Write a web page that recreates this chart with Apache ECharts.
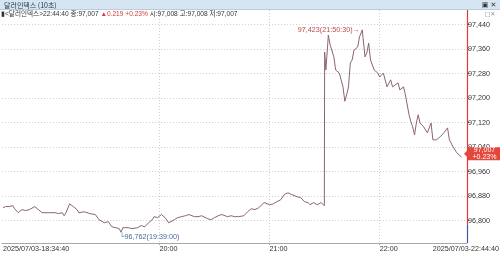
<!DOCTYPE html>
<html><head><meta charset="utf-8">
<script src="https://cdn.jsdelivr.net/npm/echarts@6/dist/echarts.min.js"></script>
<style>html,body{margin:0;padding:0;background:#fff}#c{width:500px;height:255px}</style>
</head><body><div id="c"></div>
<script>
const times = ['18:34:40','18:36','18:38','18:40','18:41','18:43','18:45','18:47','18:49','18:50','18:52','18:54','18:56','18:57','19:00','19:01','19:03','19:05','19:07','19:08','19:09','19:11','19:13','19:15','19:16','19:19','19:22','19:25','19:27','19:30','19:32','19:34','19:35','19:38','19:39','19:40','19:41','19:43','19:45','19:46','19:48','19:50','19:52','19:54','19:56','19:57','19:59','20:01','20:03','20:05','20:06','20:08','20:10','20:12','20:14','20:16','20:17','20:19','20:21','20:23','20:24','20:26','20:28','20:30','20:32','20:34','20:35','20:37','20:39','20:41','20:43','20:44','20:46','20:48','20:50','20:52','20:54','20:57','21:00','21:02','21:04','21:06','21:08','21:10','21:12','21:13','21:15','21:17','21:19','21:21','21:22','21:24','21:26','21:28','21:29:50','21:30:00','21:30:40','21:31:40','21:32','21:33','21:35','21:36','21:38','21:39','21:40','21:41','21:42','21:43','21:44','21:45','21:46','21:48','21:49','21:50:30','21:52','21:53','21:54','21:55','21:57','21:59','22:00','22:02','22:04','22:06','22:07','22:10','22:11','22:13','22:14','22:16','22:17','22:18','22:19','22:20','22:21','22:22','22:24','22:26','22:28','22:29','22:31','22:33','22:35','22:37','22:38','22:40','22:42','22:44:40'];
const values = [96.842,96.846,96.846,96.849,96.839,96.826,96.836,96.833,96.836,96.839,96.846,96.836,96.826,96.826,96.826,96.823,96.826,96.823,96.826,96.816,96.826,96.855,96.846,96.836,96.826,96.829,96.823,96.820,96.803,96.793,96.797,96.780,96.784,96.774,96.762,96.777,96.780,96.777,96.774,96.774,96.777,96.784,96.780,96.793,96.803,96.813,96.810,96.820,96.810,96.793,96.797,96.803,96.810,96.813,96.816,96.820,96.823,96.813,96.813,96.816,96.810,96.807,96.803,96.810,96.816,96.820,96.816,96.813,96.816,96.813,96.813,96.810,96.816,96.829,96.839,96.836,96.842,96.859,96.852,96.855,96.862,96.868,96.885,96.891,96.885,96.882,96.878,96.875,96.862,96.859,96.852,96.859,96.852,96.859,96.849,97.351,97.292,97.374,97.406,97.374,97.335,97.292,97.282,97.286,97.237,97.190,97.211,97.237,97.315,97.325,97.357,97.367,97.400,97.423,97.335,97.348,97.380,97.325,97.292,97.282,97.269,97.282,97.237,97.260,97.237,97.250,97.227,97.237,97.211,97.146,97.123,97.106,97.080,97.119,97.146,97.119,97.106,97.087,97.119,97.064,97.064,97.074,97.087,97.103,97.064,97.041,97.022,97.007];
const yTicks = [96.80,96.88,96.96,97.04,97.12,97.20,97.28,97.36,97.44];
const xTickTimes = ['20:00','21:00','22:00'];
const firstLabel = '2025/07/03-18:34:40';
const lastLabel = '2025/07/03-22:44:40';
const prevClose = 96.788;
const changeText = '+0.23%';
const titleText = '달러인덱스 (10초)';

const F = '"Liberation Sans","Noto Sans CJK KR",sans-serif';
const FK = '"Liberation Sans","Noto Sans CJK KR",sans-serif';
function toMin(t){const p=t.split(':').map(Number);return (p[0]-18)*60+p[1]+(p[2]||0)/60;}
const fmt = v => v.toFixed(3).replace('.', ',');
const pad = n => String(n).padStart(2,'0');
const X_MIN = toMin(times[0]) - 0.5, X_MAX = 287.6, Y_MIN = 96.727, Y_MAX = 97.488;

let iMax = 0, iMin = 0;
values.forEach((v,i)=>{ if(v>values[iMax]) iMax=i; if(v<values[iMin]) iMin=i; });
const lastV = values[values.length-1];

const chart = echarts.init(document.getElementById('c'), null, {renderer:'canvas'});
const option = {
  animation:false,
  grid: {left:0, right:33, top:10, bottom:12},
  xAxis: {
    type:'value', min:X_MIN, max:X_MAX,
    axisLine:{show:true, lineStyle:{color:'#a8a8a8', width:1}},
    axisTick:{show:true, customValues:xTickTimes.map(toMin), length:2, lineStyle:{color:'#a8a8a8'}},
    axisLabel:{
      customValues:[toMin(times[0])].concat(xTickTimes.map(toMin)),
      formatter: v => Math.abs(v - toMin(times[0])) < 0.01 ? firstLabel : pad(Math.floor(v/60)+18)+':'+pad(Math.round(v%60)),
      align:'left', margin:2, fontSize:7.2, fontFamily:F, color:'#333', verticalAlign:'top'
    },
    splitLine:{show:true, lineStyle:{type:[1,2], color:'#cfcfcf'}}
  },
  yAxis: {
    type:'value', position:'right', min:Y_MIN, max:Y_MAX, scale:true,
    axisLine:{show:false},
    axisTick:{show:true, customValues:yTicks, length:2, lineStyle:{color:'#555'}},
    axisLabel:{customValues:yTicks, formatter: v => fmt(v), fontSize:7.2, fontFamily:F, color:'#333', margin:1},
    splitLine:{show:true, lineStyle:{type:[1,2], color:'#cfcfcf'}}
  },
  series: [{
    type:'line',
    data: times.map((t,i)=>[toMin(t), values[i]]),
    showSymbol:false,
    lineStyle:{width:1, color:'#8a6474'},
    markPoint:{
      symbol:'circle', symbolSize:1, itemStyle:{color:'rgba(0,0,0,0)'}, silent:true,
      data:[
        {coord:[toMin(times[iMax]), values[iMax]], label:{show:true, position:'left', distance:2, formatter: fmt(values[iMax])+'('+times[iMax]+')→', color:'#b84a4a', fontSize:7.2, fontFamily:F}},
        {coord:[toMin(times[iMin]), values[iMin]], label:{show:true, position:'right', distance:0, offset:[-2,5], formatter: '└'+fmt(values[iMin])+'('+times[iMin]+':00)', color:'#4a6a9a', fontSize:7.2, fontFamily:F}}
      ]
    },
    markLine:{
      symbol:['none','none'], silent:true, label:{show:false},
      data:[
        [{coord:[X_MAX, prevClose], lineStyle:{color:'#e03a2a', width:1.2, type:'solid'}},{coord:[X_MAX, Y_MAX]}],
        [{coord:[X_MAX, Y_MIN], lineStyle:{color:'#3a5aa0', width:1.2, type:'solid'}},{coord:[X_MAX, prevClose]}]
      ]
    }
  }]
};
chart.setOption(option);

const yLast = chart.convertToPixel({yAxisIndex:0}, lastV);
const xEdge = chart.convertToPixel({xAxisIndex:0}, X_MAX);
const cy = yLast - 3.5;
chart.setOption({graphic:[
  {type:'rect', shape:{x:0,y:0,width:500,height:9.5}, style:{fill:'#d5e5f1'}, z:100},
  {type:'line', shape:{x1:0,y1:9.5,x2:500,y2:9.5}, style:{stroke:'#b8cde0', lineWidth:1}, z:100},
  {type:'text', x:4, y:5, style:{text:titleText, fontSize:7, fontFamily:'"Noto Sans CJK KR",sans-serif', fill:'#23354f', verticalAlign:'middle'}, z:101},
  {type:'text', x:489, y:5, style:{text:'▣ ✕', fontSize:7, fontFamily:'"DejaVu Sans",sans-serif', fill:'#333', align:'center', verticalAlign:'middle'}, z:101},
  {type:'text', x:490, y:14, style:{text:'□✕', fontSize:6, fontFamily:'"DejaVu Sans",sans-serif', fill:'#888', align:'center', verticalAlign:'middle'}, z:101},
  {type:'text', x:1, y:14, style:{
    text:'{k|▮<달러인덱스>22:44:40 종:'+fmt(lastV)+' }{r|▲0.219 '+changeText+'}{k| 시:97,008 고:97,008 저:97,007}',
    verticalAlign:'middle',
    rich:{k:{fontSize:6.6, fontFamily:FK, fill:'#333'}, r:{fontSize:6.6, fontFamily:FK, fill:'#d03a3a'}}
  }, z:101},
  {type:'polygon', shape:{points:[[xEdge-3,cy],[xEdge+1,cy-4],[xEdge+1,cy-6.5],[500,cy-6.5],[500,cy+6.5],[xEdge+1,cy+6.5],[xEdge+1,cy+4]]}, style:{fill:'#e5473a'}, z:102},
  {type:'text', x:(xEdge+500)/2+1, y:cy, style:{text:fmt(lastV)+'\n'+changeText, fontSize:7, lineHeight:6.5, fontFamily:F, fill:'#fff', align:'center', verticalAlign:'middle'}, z:103},
  {type:'text', x:499, y:245, style:{text:lastLabel, fontSize:7.2, fontFamily:F, fill:'#333', align:'right', verticalAlign:'top'}, z:101}
]});
</script></body></html>
